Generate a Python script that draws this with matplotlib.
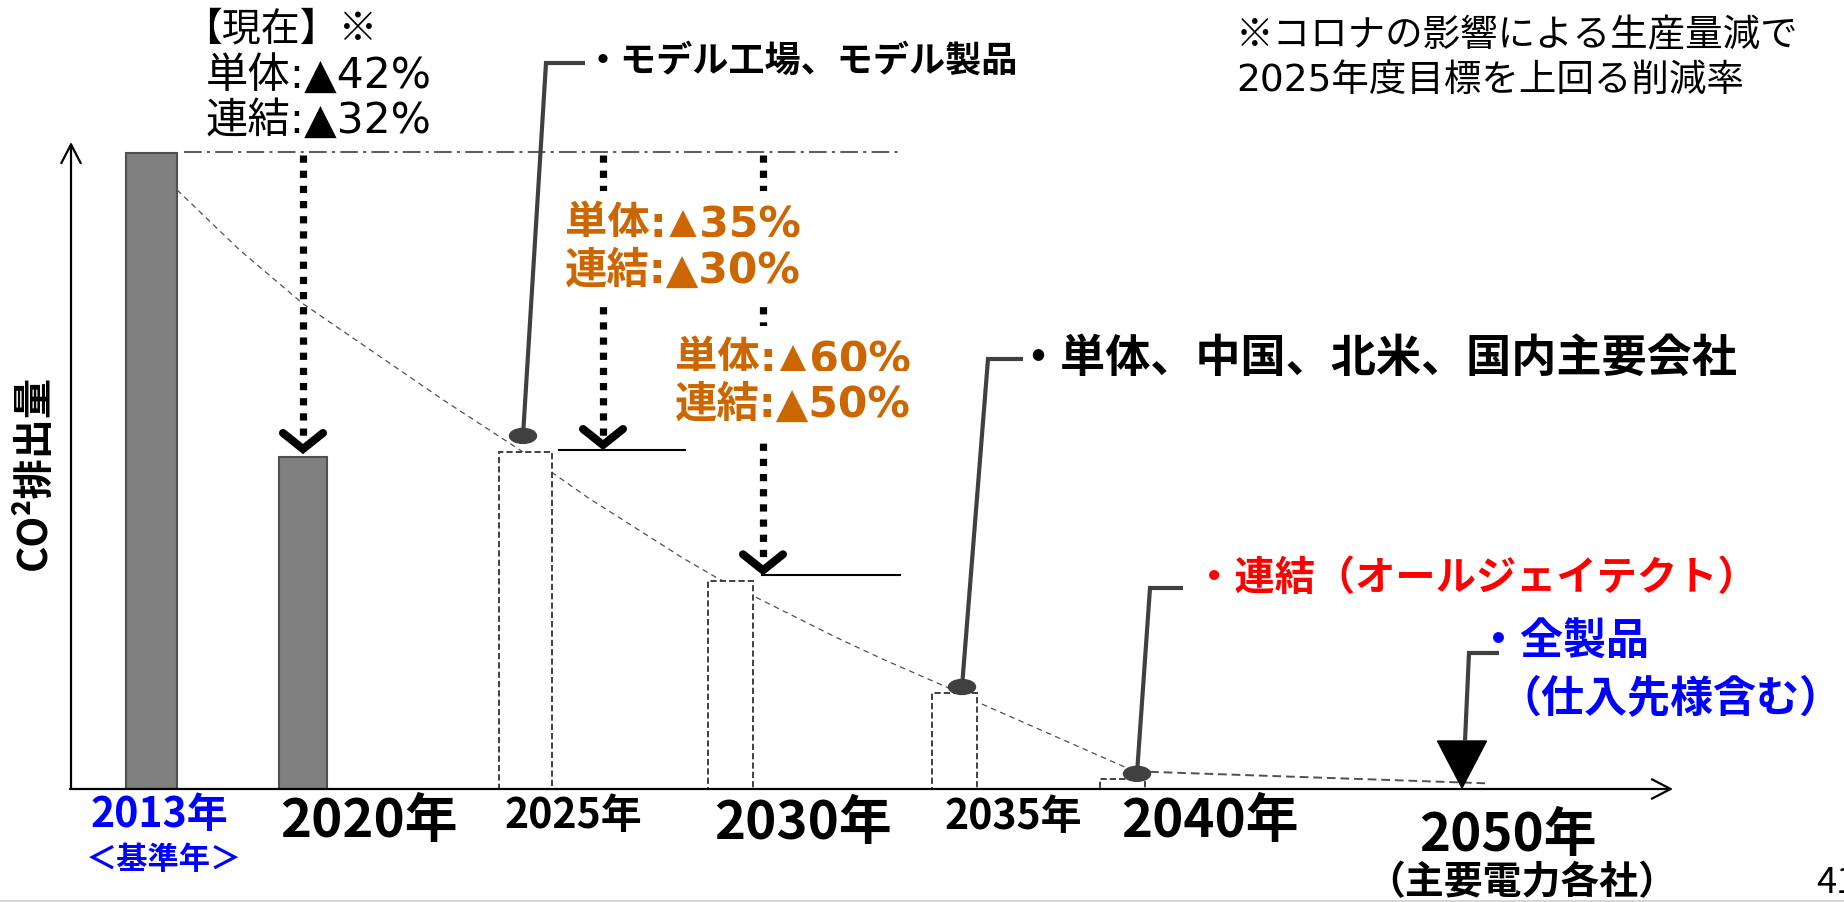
import matplotlib
matplotlib.use("Agg")
import matplotlib.pyplot as plt
from matplotlib.patches import Ellipse, Polygon
from matplotlib.lines import Line2D

plt.rcParams['font.family'] = ['Noto Sans CJK JP', 'DejaVu Sans']
WIDE_LATIN = ['DejaVu Sans', 'Noto Sans CJK JP']

# ---------------- data ----------------
years = ['2013年', '2020年', '2025年', '2030年', '2035年', '2040年']
emission = [100, 52.2, 53.0, 32.7, 15.1, 1.6]        # CO2 emissions, 2013 = 100
actual = [True, True, False, False, False, False]     # measured vs. planned
target_2025 = 53.3
target_2030 = 33.6
goal_2050 = 0.0

# schematic reduction path (position on the time axis, relative emission)
trend_pos = [177, 240, 303, 443, 520, 588, 683, 717, 838, 883, 947, 977, 1127, 1137]
trend_val = [94.2, 84.7, 76.3, 61.2, 53.3, 45.8, 36.3, 33.2, 23.7, 20.4, 16.0, 13.7, 3.3, 2.7]
tail_pos = [1150, 1485]
tail_val = [2.7, 0.9]

# ---------------- layout ----------------
W, H = 1844, 902
X0, X1 = 71, 1673          # horizontal extent of the time axis (px)
Y0, Y1 = 789, 142          # baseline / top of the vertical axis (px from top)
BASE_PX = 153              # where the 2013 level sits
PXV = (Y0 - BASE_PX) / 100.0
YMAX = (Y0 - Y1) / PXV

bar_pos = [151.5, 303, 525.5, 730.5, 954.5, 1122.5]
bar_w = [51, 48, 53, 45, 45, 45]
pos_2050 = 1462

fig = plt.figure(figsize=(W / 100, H / 100), dpi=100)
ax = fig.add_axes([X0 / W, 1 - Y0 / H, (X1 - X0) / W, (Y0 - Y1) / H])
ax.set_xlim(X0, X1)
ax.set_ylim(0, YMAX)
ax.axis('off')


def vy(ypx):
    """page row (px from top) -> emission units"""
    return (Y0 - ypx) / PXV


def dv(dpx):
    return dpx / PXV


# axes with open arrow heads
arrow_kw = dict(arrowstyle='->,head_length=1.35,head_width=0.7', lw=1.6,
                color='black', shrinkA=0, shrinkB=0, mutation_scale=10)
ax.annotate('', xy=(X0, YMAX), xytext=(X0, 0), arrowprops=arrow_kw,
            annotation_clip=False, zorder=6)
ax.annotate('', xy=(X1, 0), xytext=(X0 - 1, 0), arrowprops=arrow_kw,
            annotation_clip=False, zorder=6)

# reduction path (behind the bars)
ax.plot(trend_pos, trend_val, color='#505050', lw=0.9, dashes=(4.5, 3.5),
        zorder=1, clip_on=False)
ax.plot(tail_pos, tail_val, color='#505050', lw=1.4, dashes=(4.5, 2.5),
        zorder=1, clip_on=False)

# bars
idx_a = [i for i, a in enumerate(actual) if a]
idx_p = [i for i, a in enumerate(actual) if not a]
ax.bar([bar_pos[i] for i in idx_a], [emission[i] for i in idx_a],
       width=[bar_w[i] for i in idx_a], color='#808080', edgecolor='#505050',
       linewidth=1.5, zorder=2)
ax.bar([bar_pos[i] for i in idx_p], [emission[i] for i in idx_p],
       width=[bar_w[i] for i in idx_p], color='white', edgecolor='#404040',
       linewidth=1.4, linestyle=(0, (3.2, 1.6)), zorder=2)

# 2013 reference level
ax.plot([184, 898], [emission[0] + dv(1), emission[0] + dv(1)], color='#606060',
        lw=1.5, dashes=(8.5, 2.5, 1.5, 2.5), zorder=3, clip_on=False)

# target lines
ax.plot([559, 685], [target_2025] * 2, color='black', lw=1.5, zorder=3)
ax.plot([762, 900], [target_2030] * 2, color='black', lw=1.5, zorder=3)


def drop_arrow(x, tip):
    ax.plot([x, x], [emission[0] - dv(2), tip + dv(9)], color='black', lw=5.2,
            dashes=(1.0, 1.1), dash_capstyle='butt', zorder=4, clip_on=False)
    ax.plot([x - 20, x, x + 20], [tip + dv(16), tip, tip + dv(16)], color='black',
            lw=5.8, solid_capstyle='round', solid_joinstyle='miter', zorder=4,
            clip_on=False)


drop_arrow(303, emission[1] + dv(8))
drop_arrow(603, target_2025 + dv(5))
drop_arrow(763, target_2030 + dv(5))

# callout leaders
LEAD = '#404040'


def leader(pts_x, pts_v, dot=True):
    ax.plot(pts_x, pts_v, color=LEAD, lw=3.0, solid_joinstyle='miter',
            solid_capstyle='butt', zorder=5, clip_on=False)
    if dot:
        ax.add_patch(Ellipse((pts_x[0], pts_v[0]), 27, dv(15), color=LEAD,
                             zorder=5, clip_on=False))


a25 = (bar_pos[2] - 2.5, emission[2] + dv(16))
leader([a25[0], 546, 585], [a25[1], vy(63), vy(63)])
a35 = (bar_pos[4] + 7.5, emission[4] + dv(6))
leader([a35[0], 988, 1023], [a35[1], vy(359), vy(359)])
a40 = (bar_pos[5] + 14.5, emission[5] + dv(5))
leader([a40[0], 1150, 1183], [a40[1], vy(588), vy(588)])

# 2050 goal marker
tri_top = goal_2050 + dv(48)
ax.add_patch(Polygon([(pos_2050 - 24.5, tri_top), (pos_2050 + 24.5, tri_top),
                      (pos_2050, goal_2050 + dv(1))], closed=True,
                     color='black', zorder=5, clip_on=False))
leader([pos_2050 + 3, pos_2050 + 7, pos_2050 + 37],
       [tri_top, vy(653), vy(653)], dot=False)


def txt(x, ypx, s, size, color='black', weight='bold', ha='left', **kw):
    return ax.text(x, vy(ypx), s, fontsize=size, color=color, fontweight=weight,
                   ha=ha, va='center', clip_on=False, zorder=7, **kw)


# time axis labels
lab_pos = [159.5, 368.5, 573, 803, 1013, 1210]
lab_row = [815, 822, 816, 823, 817, 822]
lab_size = [29.5, 38, 29.5, 38, 29.5, 38]
for i, (x, r, sz) in enumerate(zip(lab_pos, lab_row, lab_size)):
    txt(x, r, years[i], sz, color='#0000FF' if i == 0 else 'black', ha='center')
txt(164, 860, '＜基準年＞', 22.5, color='#0000FF', ha='center')
txt(1508, 835, '2050年', 38, ha='center')
txt(1522, 883, '（主要電力各社）', 28, ha='center')

# vertical axis title
ax.text(34, vy(472), 'CO²排出量', rotation=90, fontsize=29, fontweight='bold',
        ha='center', va='center', clip_on=False)

# current results
txt(183, 30, '【現在】※', 28, weight='normal')
txt(206, 76, '単体:▲42%', 30.5, weight='normal', family=WIDE_LATIN)
txt(206, 121, '連結:▲32%', 30.5, weight='normal', family=WIDE_LATIN)

# targets
box = dict(facecolor='white', edgecolor='none', pad=9)
ORANGE = '#CC6600'
txt(565, 225, '単体:▲35%', 30.5, color=ORANGE, bbox=box, family=WIDE_LATIN)
txt(565, 271, '連結:▲30%', 30.5, color=ORANGE, bbox=box, family=WIDE_LATIN)
txt(675, 360, '単体:▲60%', 30.5, color=ORANGE, bbox=box, family=WIDE_LATIN)
txt(675, 405, '連結:▲50%', 30.5, color=ORANGE, bbox=box, family=WIDE_LATIN)

# scope of each milestone
txt(585, 61, '・モデル工場、モデル製品', 26)
txt(1015, 359, '・単体、中国、北米、国内主要会社', 32.5)
txt(1194, 578, '・連結（オールジェイテクト）', 29, color='#FF0000')
txt(1477, 641, '・全製品', 31, color='#0000FF')
txt(1498, 698, '（仕入先様含む）', 31, color='#0000FF')

# footnote
txt(1236, 36, '※コロナの影響による生産量減で', 27, weight='normal')
txt(1236, 81, '2025年度目標を上回る削減率', 27, weight='normal', family=WIDE_LATIN)

# page number and slide edge
txt(1816, 883, '41', 26, weight='normal')
fig.add_artist(Line2D([0, 1], [1.5 / H, 1.5 / H], color='#d6d6d6', lw=1.5))

fig.savefig('out.png', dpi=100)
